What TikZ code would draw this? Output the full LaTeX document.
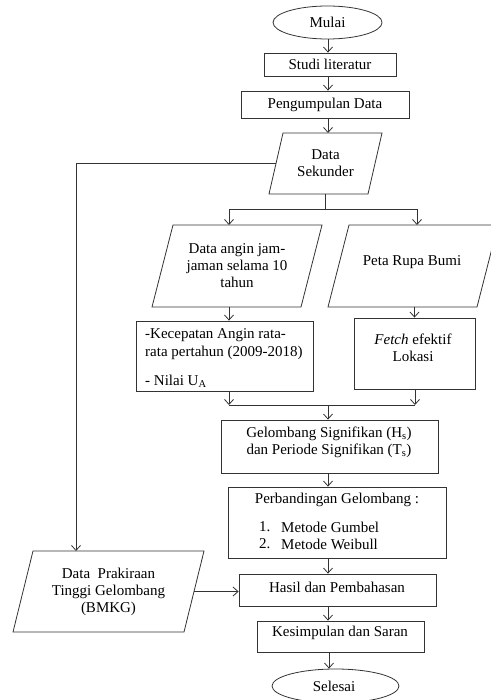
\documentclass[tikz,border=0pt]{standalone}
\usepackage{fontspec}
\setmainfont{Liberation Serif}
\usetikzlibrary{arrows.meta,shapes.geometric,calc}
\newcommand\mypara[2]{\draw[line] (#1.south west) -- ($(#1.south east)+(-#2,0)$) -- (#1.north east) -- ($(#1.north west)+(#2,0)$) -- cycle;}
\begin{document}
\begin{tikzpicture}[x=1pt,y=-1pt,
  line/.style={line width=0.8pt,draw=black!80},
  arr/.style={line,-{Straight Barb[length=5pt,width=9pt]}},
  txt/.style={font=\fontsize{15}{17}\selectfont,inner sep=0pt,align=center,text=black},
  box/.style={line,rectangle,inner sep=0pt,txt},
  oval/.style={line,ellipse,inner sep=0pt,txt},
  frame/.style={rectangle,inner sep=0pt,outer sep=0pt,txt}]
\useasboundingbox (0,0) rectangle (490,700);

% nodes
\node[oval,minimum width=109pt,minimum height=33pt] (mulai) at (327.5,22.5) {Mulai};
\node[box,minimum width=132pt,minimum height=23pt] (studi) at (330,64.5) {Studi literatur};
\node[box,minimum width=168pt,minimum height=27pt] (peng) at (325,104.5) {Pengumpulan Data};
\node[frame,minimum width=113pt,minimum height=61pt] (ds) at (325.5,163.5) {Data\\Sekunder};
\mypara{ds}{14}

\node[frame,minimum width=170pt,minimum height=82pt] (da) at (237,266) {Data angin jam-\\jaman selama 10\\tahun};
\mypara{da}{21}
\node[frame,minimum width=170pt,minimum height=82pt] (peta) at (413,266) {};
\mypara{peta}{21}
\node[txt] (petat) at (412,262) {Peta Rupa Bumi};

\node[box,minimum width=177pt,minimum height=70pt] (kec) at (224.5,356) {};
\node[txt,anchor=west] (kt1) at (145,335) {-Kecepatan Angin rata-};
\node[txt,anchor=west] (kt2) at (145,353) {rata pertahun (2009-2018)};
\node[txt,anchor=west] (kt3) at (145,381) {- Nilai U\textsubscript{A}};

\node[box,minimum width=121pt,minimum height=71pt] (fetch) at (414.5,353.5) {};
\node[txt] (fetcht) at (413,348) {\textit{Fetch} efektif\\Lokasi};

\node[box,minimum width=217pt,minimum height=53pt] (gel) at (329.5,446.5) {};
\node[txt] (gelt) at (329,442) {Gelombang Signifikan (H\textsubscript{s})\\dan Periode Signifikan (T\textsubscript{s})};

\node[box,minimum width=218pt,minimum height=71pt] (perb) at (337,522.5) {};
\node[txt] (pt1) at (337,500) {Perbandingan Gelombang :};
\node[txt,anchor=west] (pn1) at (259,527) {1.};
\node[txt,anchor=west] (pm1) at (281,527) {Metode Gumbel};
\node[txt,anchor=west] (pn2) at (259,544) {2.};
\node[txt,anchor=west] (pm2) at (281,544) {Metode Weibull};

\node[box,minimum width=197pt,minimum height=32pt] (hasil) at (337.5,590) {};
\node[txt] (hasilt) at (337,587) {Hasil dan Pembahasan};
\node[box,minimum width=167pt,minimum height=31pt] (kes) at (340.5,636.5) {};
\node[txt] (kest) at (340,633) {Kesimpulan dan Saran};
\node[oval,minimum width=127pt,minimum height=34pt] (sel) at (335.5,686) {};
\node[txt] (selt) at (334,686) {Selesai};

\node[frame,minimum width=191pt,minimum height=81pt] (dp) at (108.5,591.5) {Data~~Prakiraan\\Tinggi Gelombang\\(BMKG)};
\mypara{dp}{20}

% helper coordinates
\coordinate (sl) at (229,209);
\coordinate (sr) at (417,209);
\coordinate (ml) at (229,405);
\coordinate (mr) at (415,405);
\coordinate (lc) at (76,0);
\coordinate (cx) at (328,0);

% connectors
\draw[arr] (mulai.south -| cx) -- (studi.north -| cx);
\draw[arr] (studi.south -| cx) -- (peng.north -| cx);
\draw[arr] (peng.south -| cx) -- (ds.north -| cx);
\draw[line] (ds.south) -- (ds.south |- sl);
\draw[line] (sl) -- (sr);
\draw[arr] (sl) -- (sl |- da.north);
\draw[arr] (sr) -- (sr |- peta.north);
\draw[arr] (sl |- da.south) -- (sl |- kec.north);
\draw[arr] (peta.south -| fetch) -- (fetch.north);
\draw[arr] (kec.south -| ml) -- (ml);
\draw[arr] (fetch.south -| mr) -- (mr);
\draw[line] (ml) -- (mr);
\draw[arr] (ml -| cx) -- (gel.north -| cx);
\draw[arr] (gel.south -| cx) -- (perb.north -| cx);
\draw[arr] (perb.south -| cx) -- (hasil.north -| cx);
\draw[arr] (hasil.south -| cx) -- (kes.north -| cx);
\draw[arr] ($(kes.south -| cx)+(1,0)$) -- ($(sel.north -| cx)+(1,0)$);
\draw[arr] ($(ds.west)+(7,0)$) -| (dp.north -| lc);
\draw[arr] ($(dp.east)+(-10,0)$) -- (hasil.west |- dp.east);
\end{tikzpicture}
\end{document}
